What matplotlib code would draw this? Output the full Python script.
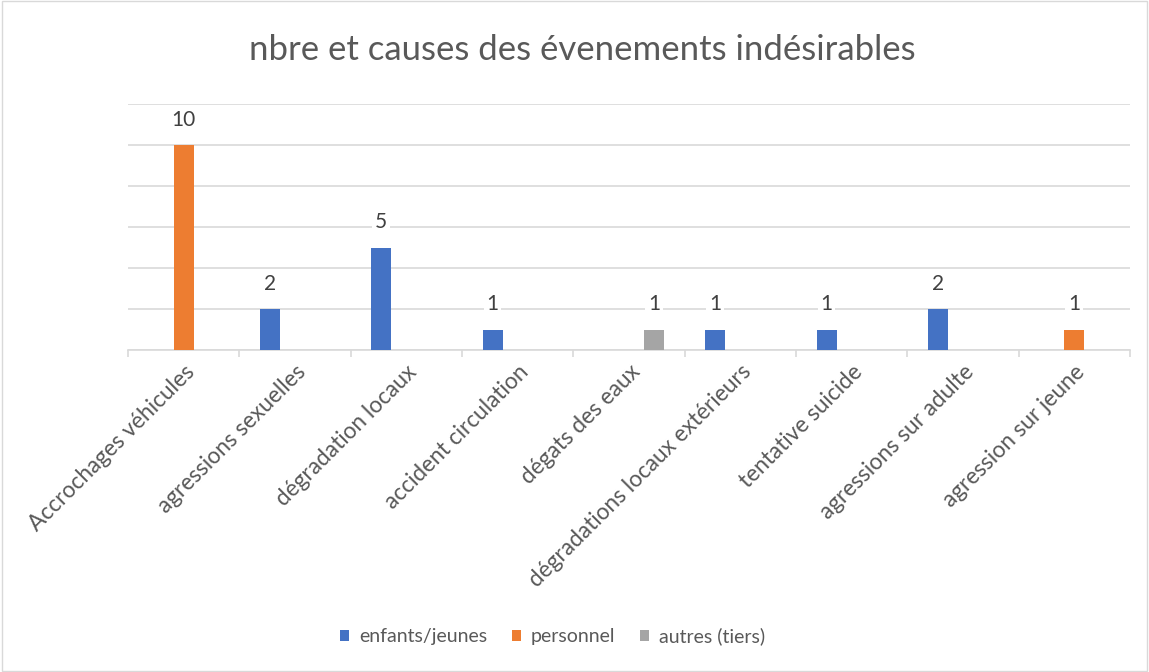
import numpy as np
import matplotlib.pyplot as plt
from matplotlib.patches import Rectangle

plt.rcParams['font.family'] = ['Lato', 'DejaVu Sans']

categories = ['Accrochages véhicules', 'agressions sexuelles', 'dégradation locaux',
              'accident circulation', 'dégats des eaux', 'dégradations locaux extérieurs',
              'tentative suicide', 'agressions sur adulte', 'agression sur jeune']
enfants = [np.nan, 2, 5, 1, np.nan, 1, 1, 2, np.nan]
personnel = [10, np.nan, np.nan, np.nan, np.nan, np.nan, np.nan, np.nan, 1]
autres = [np.nan, np.nan, np.nan, np.nan, 1, np.nan, np.nan, np.nan, np.nan]

series = [('enfants/jeunes', enfants, '#4472C4'),
          ('personnel', personnel, '#ED7D31'),
          ('autres (tiers)', autres, '#A5A5A5')]

text_col = '#595959'
grid_col = '#D9D9D9'

fig = plt.figure(figsize=(11.49, 6.72), dpi=100)
ax = fig.add_axes([0.1114, 0.479, 0.872, 0.366])

x = np.arange(len(categories))
width = 0.18
offset = 0.225

for i, (name, vals, col) in enumerate(series):
    pos = x + (i - 1) * offset
    ax.bar(pos, vals, width=width, color=col, label=name, zorder=3)
    for xp, v in zip(pos, vals):
        if not np.isnan(v):
            ax.text(xp, v + 1.25, f'{int(v)}', ha='center', va='center',
                    fontsize=15, color='#404040', zorder=4,
                    bbox=dict(facecolor='white', edgecolor='none', pad=2))

ax.set_xlim(-0.5, len(categories) - 0.5)
ax.set_ylim(0, 12)
ax.set_yticks(np.arange(0, 13, 2))
ax.set_yticklabels([])
ax.tick_params(axis='y', length=0)
ax.grid(axis='y', color=grid_col, linewidth=1.2, zorder=0)

ax.set_xticks(x)
ax.set_xticklabels(categories, rotation=45, ha='right', rotation_mode='anchor',
                   fontsize=16.3, color=text_col)
ax.tick_params(axis='x', which='major', length=0, pad=8)
ax.set_xticks(np.arange(-0.5, len(categories), 1), minor=True)
ax.tick_params(axis='x', which='minor', length=5, color=grid_col, width=1.2)

for s in ['top', 'right', 'left']:
    ax.spines[s].set_visible(False)
ax.spines['bottom'].set_color(grid_col)
ax.spines['bottom'].set_linewidth(1.2)

fig.text(0.507, 0.926, 'nbre et causes des évenements indésirables', ha='center',
         va='center', fontsize=25, color=text_col)

fig.legend(loc='center', bbox_to_anchor=(0.481, 0.053), ncol=3, frameon=False,
           fontsize=14, handlelength=0.45, handleheight=0.45, columnspacing=1.3,
           handletextpad=0.5, labelcolor=text_col)

fig.patches.append(Rectangle((0.002, 0.002), 0.996, 0.996, transform=fig.transFigure,
                             fill=False, edgecolor='#D9D9D9', linewidth=1))

fig.savefig('out.png', dpi=100, facecolor='white')
